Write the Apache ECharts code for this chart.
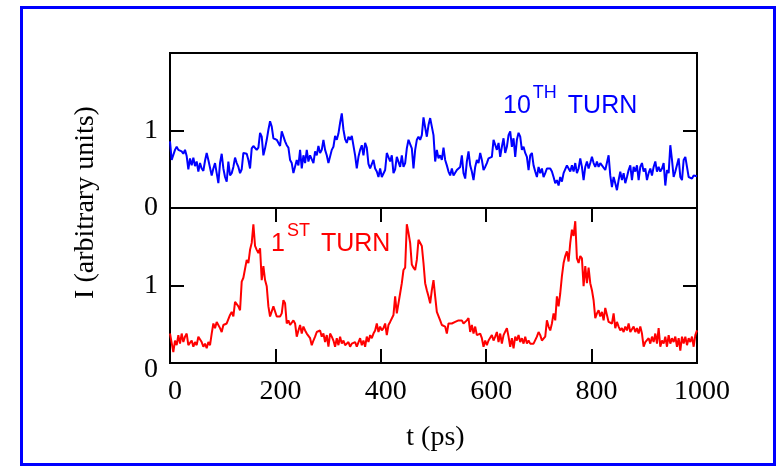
<!DOCTYPE html>
<html>
<head>
<meta charset="utf-8">
<script src="https://cdn.jsdelivr.net/npm/echarts@6/dist/echarts.min.js"></script>
<style>
  html, body { margin: 0; padding: 0; background: #ffffff; }
  #chart { width: 778px; height: 467px; }
</style>
</head>
<body>
<div id="chart"></div>
<script>
// Time window (ps) and intensity range shared by both panels
const T_MIN = 0, T_MAX = 1000, T_STEP = 200;
const I_MIN = 0, I_MAX = 2, I_STEP = 1;

// Intensity after the 10th turn, evenly sampled over 0..1000 ps
const tenthTurn = [
  0.86,0.62,0.61,0.75,0.79,0.75,0.77,0.73,0.70,0.75,
  0.67,0.50,0.64,0.55,0.65,0.54,0.60,0.47,0.58,0.51,
  0.48,0.61,0.71,0.62,0.64,0.42,0.51,0.58,0.45,0.32,
  0.58,0.70,0.51,0.40,0.34,0.60,0.42,0.45,0.53,0.65,
  0.58,0.53,0.45,0.50,0.71,0.71,0.70,0.62,0.51,0.77,
  0.80,0.80,0.75,0.78,0.97,0.92,0.68,0.77,0.88,1.01,
  1.12,1.05,0.90,0.90,0.88,0.89,0.80,0.99,0.99,0.86,
  0.81,0.78,0.62,0.58,0.45,0.47,0.62,0.55,0.75,0.51,
  0.68,0.58,0.75,0.60,0.68,0.66,0.58,0.73,0.68,0.80,
  0.71,0.75,0.88,0.75,0.68,0.58,0.58,0.75,0.79,0.93,
  0.88,0.96,1.10,1.22,1.01,0.89,0.84,0.92,0.88,0.93,
  0.91,0.68,0.51,0.66,0.75,0.81,0.68,0.84,0.78,0.57,
  0.51,0.49,0.62,0.51,0.47,0.40,0.51,0.40,0.42,0.49,
  0.71,0.73,0.60,0.68,0.45,0.50,0.66,0.64,0.53,0.68,
  0.53,0.58,0.77,0.88,0.90,0.77,0.51,0.75,0.88,0.92,
  0.88,0.94,1.17,1.04,0.92,1.07,1.16,1.14,0.94,0.60,
  0.75,0.64,0.68,0.62,0.78,0.62,0.55,0.47,0.42,0.51,
  0.42,0.40,0.49,0.47,0.53,0.68,0.45,0.38,0.60,0.73,
  0.55,0.47,0.36,0.53,0.62,0.58,0.71,0.62,0.49,0.53,
  0.58,0.64,0.62,0.66,0.88,0.86,0.75,0.84,0.66,0.79,
  0.90,0.71,0.79,0.94,0.99,0.79,0.90,0.66,0.88,0.97,
  0.92,0.75,0.79,0.71,0.66,0.49,0.68,0.71,0.55,0.47,
  0.40,0.53,0.45,0.51,0.40,0.45,0.51,0.49,0.51,0.47,
  0.40,0.32,0.36,0.29,0.40,0.34,0.45,0.47,0.55,0.51,
  0.47,0.55,0.47,0.58,0.45,0.51,0.64,0.53,0.36,0.53,
  0.60,0.51,0.58,0.66,0.58,0.53,0.60,0.53,0.58,0.55,
  0.53,0.49,0.47,0.68,0.42,0.27,0.40,0.32,0.23,0.36,
  0.47,0.36,0.45,0.32,0.40,0.49,0.55,0.36,0.53,0.47,
  0.55,0.36,0.53,0.58,0.47,0.51,0.36,0.45,0.51,0.42,
  0.53,0.60,0.47,0.53,0.47,0.51,0.58,0.29,0.49,0.45,
  0.81,0.62,0.40,0.47,0.45,0.64,0.40,0.36,0.62,0.66,
  0.53,0.40,0.42,0.38,0.42,0.40,0.41
];

// Intensity after the 1st turn, same sampling
const firstTurn = [
  0.38,0.26,0.14,0.29,0.23,0.36,0.25,0.38,0.27,0.34,
  0.38,0.23,0.25,0.29,0.21,0.27,0.23,0.34,0.32,0.27,
  0.21,0.25,0.19,0.27,0.23,0.38,0.51,0.45,0.53,0.55,
  0.45,0.40,0.49,0.47,0.51,0.49,0.62,0.66,0.60,0.79,
  0.81,0.73,0.68,1.05,1.10,1.12,1.33,1.29,1.46,1.55,
  1.79,1.51,1.46,1.42,1.48,1.07,1.25,1.07,0.99,0.73,
  0.60,0.62,0.73,0.75,0.60,0.58,0.60,0.64,0.81,0.77,
  0.51,0.55,0.49,0.47,0.55,0.51,0.34,0.42,0.49,0.38,
  0.47,0.42,0.38,0.40,0.32,0.23,0.29,0.34,0.40,0.38,
  0.42,0.34,0.38,0.27,0.36,0.21,0.38,0.34,0.29,0.21,
  0.32,0.23,0.34,0.25,0.29,0.23,0.25,0.27,0.21,0.25,
  0.23,0.27,0.21,0.19,0.32,0.23,0.29,0.21,0.34,0.27,
  0.36,0.32,0.38,0.42,0.51,0.40,0.47,0.42,0.45,0.51,
  0.36,0.49,0.53,0.51,0.62,0.86,0.64,0.66,0.90,1.03,
  1.20,1.23,1.79,1.68,1.55,1.27,1.23,1.20,1.33,1.59,
  1.57,1.51,1.29,1.03,0.94,0.86,0.77,0.94,1.07,0.86,
  0.66,0.64,0.55,0.49,0.51,0.47,0.38,0.51,0.49,0.51,
  0.49,0.53,0.51,0.55,0.53,0.55,0.51,0.53,0.55,0.58,
  0.40,0.49,0.38,0.47,0.36,0.34,0.38,0.32,0.21,0.29,
  0.23,0.29,0.27,0.36,0.29,0.34,0.40,0.27,0.38,0.25,
  0.36,0.38,0.45,0.34,0.21,0.32,0.19,0.34,0.29,0.36,
  0.27,0.32,0.25,0.34,0.25,0.29,0.25,0.27,0.25,0.27,
  0.34,0.40,0.36,0.29,0.27,0.34,0.55,0.47,0.42,0.51,
  0.64,0.55,0.86,0.73,0.90,1.12,1.29,1.38,1.44,1.31,
  1.55,1.72,1.64,1.83,1.35,1.29,1.38,1.35,0.99,1.25,
  1.03,1.23,1.03,0.94,0.81,0.58,0.64,0.68,0.60,0.66,
  0.55,0.71,0.62,0.53,0.55,0.51,0.64,0.45,0.53,0.47,
  0.42,0.45,0.40,0.47,0.42,0.51,0.40,0.38,0.47,0.40,
  0.45,0.38,0.47,0.38,0.21,0.27,0.25,0.32,0.25,0.34,
  0.27,0.38,0.25,0.45,0.21,0.29,0.25,0.34,0.21,0.36,
  0.25,0.32,0.27,0.34,0.21,0.32,0.16,0.34,0.25,0.34,
  0.23,0.32,0.27,0.34,0.21,0.36,0.42
];

// Panel captions: ordinal number, superscript suffix, word
const tenthCaption = ['10', 'TH', 'TURN'];
const firstCaption = ['1', 'ST', 'TURN'];
const xTitle = 't (ps)';
const yTitle = 'I (arbitrary units)';

const BLUE = '#0000ff';
const RED = '#ff0000';
const SERIF = "'Liberation Serif', 'Times New Roman', serif";
const SANS = "'Liberation Sans', Arial, sans-serif";

// Turn an evenly sampled trace into [t, I] pairs spanning the time window
function toPoints(values) {
  const dt = (T_MAX - T_MIN) / (values.length - 1);
  return values.map((v, i) => [T_MIN + i * dt, v]);
}

const tick = { show: true, inside: true, length: 14, lineStyle: { color: '#000', width: 2 } };
const serifLabel = { fontFamily: SERIF, fontSize: 28, color: '#000' };

function xAxisFor(gridIndex, position, showLabels) {
  return {
    type: 'value', gridIndex, position,
    min: T_MIN, max: T_MAX, interval: T_STEP,
    axisLine: { show: false }, splitLine: { show: false },
    axisTick: tick,
    axisLabel: showLabels
      ? Object.assign({ show: true, margin: 15, padding: [0, 0, 0, 10], formatter: v => String(v) }, serifLabel)
      : { show: false }
  };
}

function yAxisFor(gridIndex, position, showLabels, lowerPanel) {
  return {
    type: 'value', gridIndex, position,
    min: I_MIN, max: I_MAX, interval: I_STEP,
    axisLine: { show: false }, splitLine: { show: false },
    axisTick: tick,
    axisLabel: showLabels ? Object.assign({
      show: true, margin: 12,
      formatter: v => v === I_MAX ? '' : (lowerPanel && v === I_MIN ? '{low|' + v + '}' : String(v)),
      rich: { low: { fontFamily: SERIF, fontSize: 28, color: '#000', padding: [13, 0, 0, 0] } }
    }, serifLabel) : { show: false }
  };
}

// Width of a string in a given canvas font
const measureCtx = document.createElement('canvas').getContext('2d');
function textWidth(str, font) {
  measureCtx.font = font;
  return measureCtx.measureText(str).width;
}

// Superscripted caption made of three text pieces, laid out left to right
function caption(parts, x, y, color) {
  const big = '25px ' + SANS, small = '18px ' + SANS;
  const supX = x + textWidth(parts[0], big) + 2;
  const wordX = supX + textWidth(parts[1], small) + 11;
  return [
    { type: 'text', x: x, y: y, style: { text: parts[0], font: big, fill: color, align: 'left', verticalAlign: 'middle' } },
    { type: 'text', x: supX, y: y - 12.5, style: { text: parts[1], font: small, fill: color, align: 'left', verticalAlign: 'middle' } },
    { type: 'text', x: wordX, y: y, style: { text: parts[2], font: big, fill: color, align: 'left', verticalAlign: 'middle' } }
  ];
}

const chart = echarts.init(document.getElementById('chart'), null, { renderer: 'canvas' });

chart.setOption({
  animation: false,
  backgroundColor: '#ffffff',
  grid: [
    { left: 170, top: 53, width: 527, height: 155, show: true, borderColor: '#000', borderWidth: 2, backgroundColor: 'transparent' },
    { left: 170, top: 208, width: 527, height: 155, show: true, borderColor: '#000', borderWidth: 2, backgroundColor: 'transparent' }
  ],
  xAxis: [
    xAxisFor(0, 'top', false),
    Object.assign(xAxisFor(1, 'bottom', true), {
      name: xTitle, nameLocation: 'middle', nameGap: 61,
      nameTextStyle: { fontFamily: SERIF, fontSize: 28, color: '#000', padding: [0, 0, 0, 4] }
    })
  ],
  yAxis: [
    yAxisFor(0, 'left', true, false),
    yAxisFor(0, 'right', false, false),
    yAxisFor(1, 'left', true, true),
    yAxisFor(1, 'right', false, false)
  ],
  series: [
    {
      name: tenthCaption.join(''), type: 'line', xAxisIndex: 0, yAxisIndex: 0,
      data: toPoints(tenthTurn), showSymbol: false, smooth: false,
      lineStyle: { color: BLUE, width: 2 }, itemStyle: { color: BLUE }
    },
    {
      name: firstCaption.join(''), type: 'line', xAxisIndex: 1, yAxisIndex: 2,
      data: toPoints(firstTurn), showSymbol: false, smooth: false,
      lineStyle: { color: RED, width: 2 }, itemStyle: { color: RED }
    }
  ],
  graphic: [
    // outer frame
    { type: 'rect', shape: { x: 21.5, y: 7.5, width: 753, height: 457 },
      style: { fill: 'none', stroke: BLUE, lineWidth: 3 }, silent: true },
    // shared vertical axis title
    { type: 'text', x: 86, y: 202.5, rotation: Math.PI / 2,
      style: { text: yTitle, font: '28px ' + SERIF, fill: '#000', align: 'center', verticalAlign: 'middle' } },
    ...caption(tenthCaption, 503, 106, BLUE),
    ...caption(firstCaption, 271, 244, RED)
  ]
});
</script>
</body>
</html>
